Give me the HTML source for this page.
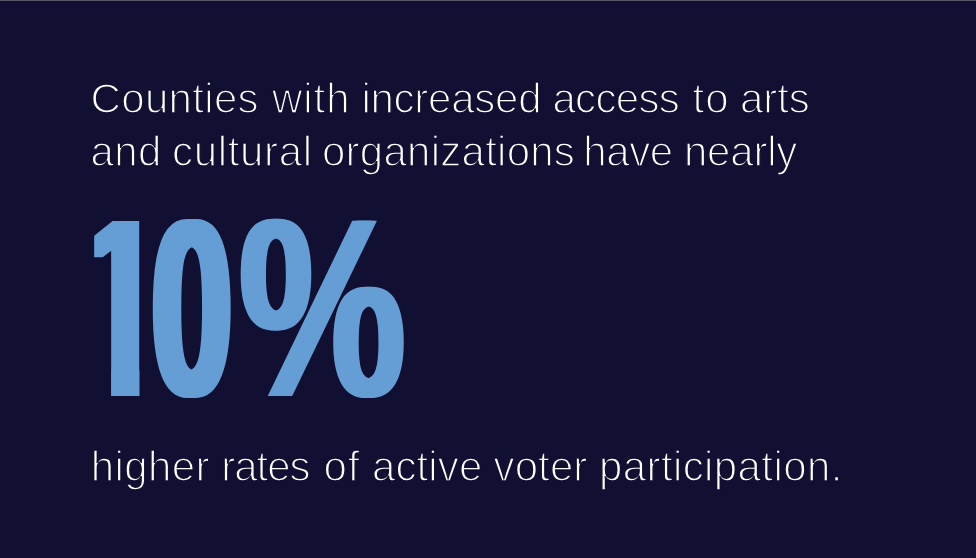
<!DOCTYPE html>
<html lang="en">
<head>
<meta charset="utf-8">
<title>Arts access and voter participation</title>
<style>
html,body{margin:0;padding:0;}
body{width:976px;height:558px;background:#111033;overflow:hidden;position:relative;font-family:"Liberation Sans",sans-serif;}
.topline{position:absolute;left:0;top:0;width:976px;height:1px;background:#56566b;}
.t{position:absolute;left:0;margin:0;width:976px;height:50px;color:#ffffff;font-weight:400;font-size:42px;line-height:50px;white-space:nowrap;-webkit-text-stroke:1.5px #111033;}
.t span{position:absolute;top:0;}
.big{position:absolute;left:0;top:158px;margin:0;width:976px;height:300px;color:#649ed4;font-weight:700;font-size:254px;line-height:300px;white-space:nowrap;}
.big span{position:absolute;top:0;display:block;transform-origin:0 0;}
.big .n1{left:62.80px;transform:scaleX(0.8120);clip-path:polygon(38.4px 0,94.2px 0,94.2px 100%,59.2px 100%,59.2px 99.3px,38.4px 99.3px);}
.big .n0{left:147.13px;transform:translateY(1.05px) scale(0.5740,0.9956);text-shadow:7.30px 0 0 #649ed4,14.60px 0 0 #649ed4;}
.big .pc{left:236.00px;transform:scaleX(0.7400);text-shadow:3.65px 0 0 #649ed4,7.30px 0 0 #649ed4;}
</style>
</head>
<body>
<div class="topline"></div>
<p class="t" style="top:74px"><span style="left:90.60px;letter-spacing:0.322px">Counties</span> <span style="left:271.88px;letter-spacing:1.000px">with</span> <span style="left:361.44px;letter-spacing:-0.255px">increased</span> <span style="left:552.44px;letter-spacing:-0.679px">access</span> <span style="left:692.51px;letter-spacing:1.000px">to</span> <span style="left:739.94px;letter-spacing:-0.046px">arts</span></p>
<p class="t" style="top:127px"><span style="left:90.44px;letter-spacing:0.483px">and</span> <span style="left:171.97px;letter-spacing:0.681px">cultural</span> <span style="left:321.98px;letter-spacing:0.256px">organizations</span> <span style="left:583.36px;letter-spacing:-0.420px">have</span> <span style="left:683.91px;letter-spacing:-0.201px">nearly</span></p>
<p class="big"><span class="n1">1</span><span class="n0">0</span><span class="pc">%</span></p>
<p class="t" style="top:442px"><span style="left:90.86px;letter-spacing:0.366px">higher</span> <span style="left:221.25px;letter-spacing:-1.000px">rates</span> <span style="left:323.46px;letter-spacing:1.000px">of</span> <span style="left:371.94px;letter-spacing:0.135px">active</span> <span style="left:493.54px;letter-spacing:0.114px">voter</span> <span style="left:598.99px;letter-spacing:0.402px">participation.</span></p>
</body>
</html>
